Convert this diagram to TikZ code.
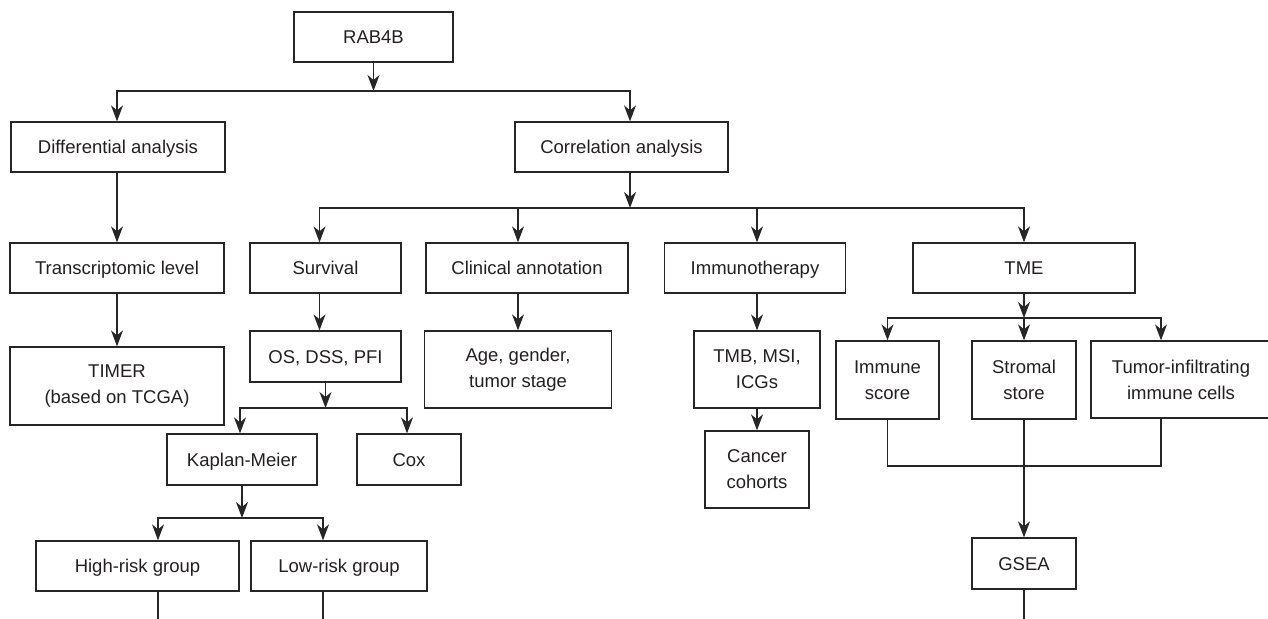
\documentclass[tikz,border=0pt]{standalone}
\usepackage{fontspec}
\setmainfont{Liberation Sans}
\usetikzlibrary{arrows.meta}
\definecolor{boxline}{HTML}{262626}
\definecolor{txt}{HTML}{231F20}

\begin{document}
\begin{tikzpicture}[x=1pt,y=-1pt,
  box/.style={draw=boxline,line width=1.3pt,inner sep=0pt,align=center,
    text=txt,font=\fontsize{18.5}{26}\selectfont},
  one/.style={text height=13.3pt,text depth=0pt},
  wh/.style 2 args={minimum width=#1pt,minimum height=#2pt},
  arr/.style={draw=boxline,line width=1.3pt,-{Stealth[length=16pt,width=12pt,inset=5pt]}},
  ln/.style={draw=boxline,line width=1.3pt}]
  \useasboundingbox (0,0) rectangle (1268,618);

  %top levels
  \node[box,one,wh={159}{50}] (rab) at (373.5,37) {RAB4B};
  \node[box,one,wh={214}{50}] (diff) at (118,147) {Differential analysis};
  \node[box,one,wh={213}{50}] (corr) at (621.5,147) {Correlation analysis};

  %second row
  \node[box,one,wh={214}{50}] (trans) at (117,268) {Transcriptomic level};
  \node[box,one,wh={151}{50}] (surv) at (325.5,268) {Survival};
  \node[box,one,wh={202}{50}] (clin) at (527,268) {Clinical annotation};
  \node[box,one,wh={181}{50}] (immu) at (755,268) {Immunotherapy};
  \node[box,one,wh={222}{50}] (tme) at (1024,268) {TME};

  %third row
  \node[box,wh={214}{78}] (timer) at (117,386) {TIMER\\(based on TCGA)};
  \node[box,one,wh={151}{51}] (os) at (325.5,356.5) {OS, DSS, PFI};
  \node[box,wh={187}{77}] (age) at (518,369.5) {Age, gender,\\tumor stage};
  \node[box,wh={126}{77}] (tmb) at (757,369.5) {TMB, MSI,\\ICGs};
  \node[box,wh={104}{77}] (cancer) at (757,469.5) {Cancer\\cohorts};
  \node[box,wh={103}{78}] (immune) at (887.5,380) {Immune\\score};
  \node[box,wh={104}{78}] (stromal) at (1024,380) {Stromal\\store};
  \node[box,wh={180}{77}] (tumor) at (1181,379.5) {Tumor-infiltrating\\immune cells};
  \node[box,one,wh={104}{51}] (gsea) at (1024,563.5) {GSEA};

  %survival branch
  \node[box,one,wh={150}{51}] (kaplan) at (242,459.5) {Kaplan-Meier};
  \node[box,one,wh={104}{51}] (cox) at (409,459.5) {Cox};
  \node[box,one,wh={203}{50}] (high) at (137.5,566) {High-risk group};
  \node[box,one,wh={176}{50}] (low) at (339,566) {Low-risk group};

  %junctions and free ends
  \coordinate (j1) at (373.5,91);
  \coordinate (j2) at (630,208);
  \coordinate (j3) at (1024,318);
  \coordinate (j4) at (1024,466);
  \coordinate (j5) at (325.5,408);
  \coordinate (j6) at (242,518);
  \coordinate (e1) at (158,620);
  \coordinate (e2) at (323,620);
  \coordinate (e3) at (1024,620);

  \draw[arr] (rab) -- (j1);
  \draw[arr] (j1) -| (diff.north -| trans);
  \draw[arr] (j1) -| (corr.north -| j2);
  \draw[arr] (diff.south -| trans) -- (trans);
  \draw[arr] (trans) -- (timer);

  \draw[arr] (corr.south -| j2) -- (j2);
  \draw[arr] (j2) -| ([xshift=-6pt]surv.north);
  \draw[arr] (j2) -| (clin.north -| age);
  \draw[arr] (j2) -| (immu.north -| tmb);
  \draw[arr] (j2) -| (tme);
  \draw[arr] ([xshift=-6pt]surv.south) -- ([xshift=-6pt]os.north);
  \draw[arr] (clin.south -| age) -- (age);
  \draw[arr] (immu.south -| tmb) -- (tmb);
  \draw[arr] (tmb) -- (cancer);

  %TME branch
  \draw[arr] (tme) -- (j3);
  \draw[arr] (j3) -| (immune);
  \draw[arr] (j3) -- (stromal);
  \draw[arr] (j3) -| ([xshift=-20pt]tumor.north);
  \draw[ln] (immune) |- (j4);
  \draw[ln] ([xshift=-20pt]tumor.south) |- (j4);
  \draw[arr] (stromal) -- (gsea);
  \draw[ln] (gsea) -- (e3);

  %survival branch
  \draw[arr] (os) -- (j5);
  \draw[arr] (j5) -| ([xshift=-2pt]kaplan.north);
  \draw[arr] (j5) -| ([xshift=-2pt]cox.north);
  \draw[arr] (kaplan) -- (j6);
  \draw[arr] (j6) -| ([xshift=20.5pt]high.north);
  \draw[arr] (j6) -| ([xshift=-16pt]low.north);
  \draw[ln] ([xshift=20.5pt]high.south) -- (e1);
  \draw[ln] ([xshift=-16pt]low.south) -- (e2);
\end{tikzpicture}
\end{document}
